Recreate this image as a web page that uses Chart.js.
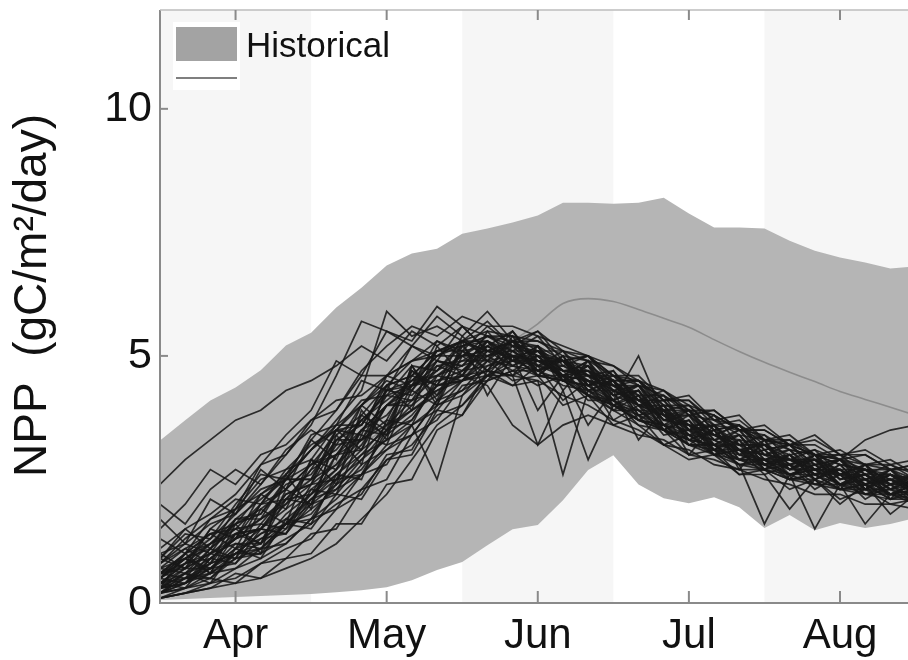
<!DOCTYPE html>
<html>
<head>
<meta charset="utf-8">
<script src="https://cdn.jsdelivr.net/npm/chart.js@4.4.1/dist/chart.umd.min.js"></script>
<style>
html,body{margin:0;padding:0;background:#fff;}
#wrap{width:908px;height:660px;position:relative;}
</style>
</head>
<body>
<div id="wrap"><canvas id="c" width="908" height="660"></canvas></div>
<script>
// ---------- data ----------
const months = ['Apr', 'May', 'Jun', 'Jul', 'Aug'];
const monthPos = [0, 1, 2, 3, 4];
const yTicks = [0, 5, 10];
const legendLabel = 'Historical';
const yTitle = ' \u2009NPP  (gC/m\u00B2/day)';

// time axis: 5-day steps, in month units (Apr = 0)
const tSteps = Array.from({length: 31}, (_, i) => -0.5 + i / 6);

const histUpper = [3.29,3.70,4.10,4.36,4.71,5.21,5.47,5.98,6.38,6.83,7.07,7.17,7.47,7.58,7.70,7.84,8.10,8.10,8.08,8.10,8.20,7.88,7.60,7.60,7.58,7.33,7.13,6.99,6.89,6.77,6.81];
const histLower = [0.06,0.08,0.10,0.12,0.14,0.16,0.18,0.22,0.26,0.32,0.46,0.67,0.83,1.17,1.49,1.58,2.08,2.69,2.99,2.40,2.12,2.02,2.14,1.94,1.52,1.78,1.47,1.62,1.52,1.60,1.72];
const histMean  = [0.90,1.10,1.30,1.60,1.90,2.20,2.50,2.85,3.20,3.55,3.90,4.25,4.60,4.95,5.30,5.65,6.06,6.16,6.10,5.94,5.76,5.58,5.33,5.09,4.87,4.67,4.48,4.28,4.12,3.96,3.80];

const ensemble = [
[0.9,1.4,1.3,2.0,2.6,2.5,3.4,3.6,4.5,4.3,5.2,4.9,5.6,5.1,5.3,5.0,4.6,4.9,4.3,4.4,3.8,3.9,3.3,3.5,3.0,3.1,2.7,2.9,2.5,2.6,2.3],
[0.2,0.3,0.5,0.4,0.8,0.9,1.4,1.5,2.3,2.5,3.4,3.7,4.4,4.5,5.1,4.7,4.9,4.3,4.5,3.8,3.9,3.3,3.5,2.9,3.1,2.6,2.8,2.4,2.6,2.2,2.4],
[0.5,0.9,0.6,1.4,1.2,2.1,2.0,3.0,3.3,3.7,4.7,4.2,5.1,4.7,5.3,4.6,5.0,4.2,4.5,3.7,4.0,3.2,3.5,2.9,3.2,2.7,2.9,2.4,2.7,2.3,2.6],
[0.3,0.4,1.0,0.9,1.6,1.5,2.4,2.5,3.5,3.4,4.4,4.5,4.6,5.3,4.8,5.1,4.5,4.8,4.0,4.3,3.5,3.8,3.1,3.4,2.8,3.0,2.5,2.8,2.3,2.6,2.2],
[2.4,2.9,3.3,3.7,3.9,4.3,4.5,4.8,5.2,4.9,5.5,5.2,5.6,5.1,5.3,4.9,4.9,4.4,4.5,3.9,3.9,3.3,3.5,3.0,3.1,2.7,2.9,2.4,2.6,2.2,2.4],
[2.0,1.6,2.3,2.7,2.4,3.1,3.5,3.2,4.0,4.5,4.3,5.1,5.3,5.7,5.2,5.2,4.6,4.9,4.2,4.4,3.8,3.8,3.4,3.3,3.2,2.8,3.0,2.6,2.7,2.4,2.6],
[0.1,0.2,0.3,0.6,0.5,0.9,1.0,1.6,1.6,2.4,2.5,3.5,3.8,4.5,4.7,4.7,4.8,4.6,4.3,4.1,3.8,3.5,3.3,3.1,2.8,2.8,2.5,2.7,2.2,2.4,2.1],
[0.6,1.0,1.4,1.1,2.0,2.1,2.7,3.5,3.1,4.3,4.2,4.7,5.2,4.7,5.4,4.6,5.0,4.3,4.3,4.0,3.8,3.4,3.4,3.1,3.0,2.7,3.0,2.5,2.6,2.3,2.4],
[0.4,0.7,1.2,1.5,1.2,2.3,2.0,3.3,3.7,3.4,4.8,4.1,5.2,5.3,4.6,5.2,4.3,4.9,3.9,4.2,3.5,3.7,3.0,3.3,2.7,3.0,2.5,2.8,2.3,2.6,2.3],
[0.5,0.4,0.8,1.0,1.2,1.6,2.0,2.4,3.0,3.3,3.6,2.5,4.2,4.6,4.4,4.5,2.6,4.3,4.0,3.9,3.5,3.4,3.1,2.9,2.8,2.6,2.6,2.4,2.3,2.3,2.2],
[0.7,1.1,0.8,1.7,1.7,2.5,2.5,3.5,3.6,4.4,4.6,5.1,5.1,5.2,5.5,4.9,4.9,4.7,4.5,4.0,4.1,3.5,3.6,3.1,3.2,2.8,2.9,2.6,2.8,2.4,2.6],
[0.2,0.5,0.5,1.0,1.0,1.6,1.8,2.4,2.7,3.4,3.8,4.4,4.5,5.0,4.7,5.0,4.5,4.4,4.1,3.9,3.6,3.4,3.1,3.0,2.8,2.6,2.8,2.4,2.5,2.2,2.4],
[0.8,1.1,1.4,1.5,2.0,2.3,2.8,3.0,3.7,4.1,4.5,4.9,4.8,5.3,5.0,4.9,4.9,4.5,4.4,4.0,3.9,3.5,3.4,3.2,3.2,3.0,3.1,2.9,3.3,3.5,3.6],
[0.3,0.7,0.7,1.2,1.2,1.8,2.2,2.7,3.2,4.0,4.0,4.8,4.6,5.2,4.9,4.9,4.6,4.5,4.2,4.0,3.6,3.5,3.2,3.1,2.9,2.8,2.6,2.6,2.4,2.5,2.3],
[0.6,0.8,1.2,1.4,1.7,2.0,2.7,3.0,3.5,4.0,4.5,4.6,5.0,5.1,5.0,4.9,4.6,4.5,4.1,5.0,3.8,3.6,3.4,3.1,3.0,2.9,2.7,2.6,2.5,2.4,2.4],
[0.4,0.5,0.7,1.1,1.3,1.6,2.2,2.6,3.1,3.5,4.0,4.4,4.6,4.7,4.6,3.2,4.3,2.9,4.0,3.7,3.5,3.2,3.0,2.8,2.7,2.5,2.5,2.3,2.3,2.2,2.2],
[1.0,1.2,1.6,1.8,2.3,2.5,3.1,3.5,4.0,4.4,4.9,5.1,5.2,5.4,5.4,5.1,5.1,4.6,4.7,4.1,4.1,3.6,3.6,3.2,3.2,2.9,2.9,2.7,2.7,2.5,2.6],
[0.5,0.9,1.3,1.8,2.4,3.0,3.6,4.6,5.7,5.5,5.3,6.0,5.6,5.4,5.2,5.1,4.9,4.6,4.5,4.1,3.9,3.6,3.4,3.2,3.0,2.9,2.8,2.6,2.6,2.4,2.4],
[0.2,0.3,0.6,0.7,1.1,1.2,1.7,1.9,2.6,2.8,3.6,3.9,4.5,4.7,5.0,4.9,4.8,4.5,4.4,4.0,3.8,3.4,3.3,3.0,2.9,2.7,2.7,2.4,2.5,2.2,2.4],
[0.1,0.3,0.4,0.7,0.9,1.2,1.7,2.1,2.6,3.1,3.4,4.1,4.5,4.6,4.9,4.7,4.5,4.4,4.0,3.8,3.5,3.2,3.1,2.8,1.6,2.6,1.5,2.4,1.6,2.2,2.0],
[0.9,1.5,1.1,1.9,2.2,2.5,3.1,3.6,4.0,4.6,4.9,5.0,5.3,5.3,5.0,5.1,4.7,4.7,4.2,4.3,3.7,3.8,3.3,3.4,2.9,3.0,2.7,2.7,2.4,2.5,2.2],
[0.3,0.6,0.5,0.9,1.1,1.6,1.7,2.5,2.6,3.5,3.7,4.5,4.7,5.1,5.0,4.9,4.7,4.6,4.3,4.1,3.7,3.6,3.2,3.2,2.8,2.9,2.6,2.7,2.4,2.5,2.3],
[0.6,0.7,1.0,1.3,1.7,2.1,2.5,2.8,3.3,3.6,4.1,4.3,4.6,4.4,3.6,3.2,3.6,3.8,3.6,3.4,3.3,3.0,2.9,2.7,2.7,2.5,2.4,2.3,2.2,2.1,2.1],
[0.4,0.8,0.9,1.3,1.5,2.1,2.2,3.0,3.1,4.0,4.1,4.6,4.8,5.3,4.9,5.2,4.7,4.6,4.4,4.2,3.7,3.6,3.1,3.1,2.9,2.9,2.7,2.7,2.3,2.6,2.3],
[1.3,1.0,1.7,2.1,2.0,2.7,2.9,3.6,3.6,4.3,4.4,5.0,5.0,5.3,5.1,5.4,4.8,5.0,4.6,4.5,4.0,4.0,3.5,3.6,3.2,3.3,2.9,3.0,2.6,2.8,2.5],
[0.1,0.2,0.3,0.4,0.5,0.7,0.9,1.2,1.7,2.2,2.9,3.6,4.0,4.5,4.7,4.4,4.6,4.1,4.1,3.6,3.5,3.0,3.1,2.6,2.7,2.3,2.5,2.1,2.3,2.0,2.1],
[0.7,0.6,1.1,1.5,1.6,2.2,2.4,3.2,3.3,4.0,4.3,4.9,4.8,5.0,5.2,5.0,4.6,4.7,4.1,4.3,3.6,3.7,3.2,3.4,2.8,3.0,2.6,2.7,2.4,2.6,2.3],
[0.5,0.8,1.0,1.4,1.5,1.9,2.3,2.7,3.5,3.8,4.4,4.6,4.9,5.2,4.9,4.8,4.7,4.2,3.9,3.6,3.2,2.9,3.0,2.6,2.6,1.9,2.5,2.0,2.4,1.8,2.2],
[0.6,1.0,1.4,1.6,2.2,2.6,3.1,3.7,4.3,5.9,5.4,5.6,5.3,5.5,5.4,5.3,5.0,4.9,4.6,4.4,4.2,3.9,3.8,3.5,3.5,3.2,3.3,3.0,3.0,2.7,2.8],
[0.3,0.4,0.7,1.0,1.4,1.6,2.1,2.5,2.9,3.5,3.9,4.2,4.7,4.8,5.0,4.6,4.5,4.2,4.0,3.7,3.6,3.2,3.2,2.8,2.9,2.5,2.6,2.3,2.4,2.1,2.2],
[0.8,1.2,1.0,1.7,2.1,2.5,2.8,3.4,3.8,4.4,4.6,5.1,5.3,5.1,5.3,5.2,4.9,5.0,4.5,4.5,4.1,4.1,3.6,3.7,3.3,3.3,3.0,3.0,2.8,2.8,2.6],
[0.2,0.5,0.6,1.0,1.1,1.5,1.9,2.3,2.9,3.3,3.7,4.4,4.5,4.9,4.8,4.7,4.4,4.3,3.9,3.9,3.5,3.3,3.2,2.9,2.9,2.6,2.7,2.4,2.4,2.2,2.3],
[1.5,2.0,2.7,2.4,3.0,3.2,3.7,4.1,4.2,4.6,4.9,5.3,5.0,5.4,5.1,5.1,4.7,4.8,4.3,4.4,3.9,3.9,3.4,3.6,3.1,3.2,2.8,2.9,2.5,2.7,2.4],
[0.4,0.6,0.9,1.3,1.5,2.0,2.4,2.8,3.5,4.0,4.4,4.7,5.0,5.0,5.1,4.8,4.9,4.4,4.5,4.0,4.0,3.5,3.6,3.1,3.2,2.8,2.9,2.5,2.6,2.3,2.5],
[0.6,0.9,1.1,1.6,1.8,2.4,2.6,3.3,3.6,4.3,4.5,5.0,5.2,5.4,5.3,5.3,5.1,4.9,4.8,4.4,4.3,3.9,3.9,3.5,3.5,3.2,3.2,2.9,3.0,2.7,2.8],
[0.3,0.5,0.8,1.0,1.4,1.7,2.1,2.6,3.0,3.6,3.9,4.3,4.5,4.7,4.6,4.5,4.2,4.0,3.7,3.5,3.2,3.1,2.8,2.7,2.5,2.4,2.2,2.2,2.0,2.0,1.9],
[0.2,0.6,0.4,1.1,0.9,1.7,1.6,2.6,2.5,3.7,3.6,4.6,4.5,5.1,4.8,5.0,4.5,4.6,4.0,4.2,3.5,3.7,3.1,3.3,2.7,3.0,2.5,2.7,2.3,2.5,2.2],
[0.9,0.7,1.5,1.3,2.2,1.9,2.9,2.7,3.8,3.5,4.7,4.4,5.4,4.9,5.5,4.8,5.1,4.4,4.7,4.0,4.2,3.5,3.8,3.2,3.4,2.9,3.1,2.6,2.8,2.4,2.6],
[0.1,0.2,0.4,0.5,0.8,1.1,1.3,1.9,2.2,3.0,3.1,4.0,4.2,4.8,4.9,5.0,4.9,4.6,4.6,4.2,4.2,3.8,3.7,3.4,3.3,3.1,3.0,2.8,2.7,2.6,2.5],
[1.1,1.5,1.8,2.2,2.8,3.0,3.7,3.9,4.6,4.6,5.2,5.0,5.3,5.1,5.1,4.8,4.6,4.3,4.1,3.8,3.6,3.3,3.2,2.9,2.9,2.6,2.7,2.4,2.5,2.2,2.3],
[0.4,0.3,0.9,0.8,1.5,1.4,2.3,2.2,3.4,3.2,4.3,4.0,5.0,4.6,5.2,4.7,5.0,4.4,4.6,4.1,4.3,3.8,3.9,3.5,3.6,3.2,3.4,3.0,3.1,2.8,2.9],
[0.7,0.9,1.2,1.6,1.9,2.3,2.8,3.1,3.7,4.2,4.4,4.8,4.9,4.9,5.0,4.6,4.6,4.2,4.1,3.7,3.6,3.2,3.2,2.8,2.8,2.5,2.6,2.3,2.4,2.1,2.3],
[0.3,0.4,0.6,0.9,1.0,1.3,1.6,2.0,2.3,2.9,3.2,3.8,4.0,4.6,4.6,4.9,4.7,4.7,4.4,4.4,4.0,3.9,3.6,3.5,3.3,3.2,3.0,2.9,2.8,2.7,2.7],
[0.5,1.0,1.2,1.7,1.8,2.5,2.5,3.3,3.3,4.2,4.1,4.9,4.7,5.2,4.9,5.1,4.6,4.7,4.2,4.3,3.7,3.9,3.4,3.6,3.0,3.2,2.7,2.9,2.4,2.7,2.3],
[0.2,0.4,0.7,0.8,1.3,1.4,2.0,2.2,2.8,3.1,3.6,4.0,4.3,4.6,4.8,4.6,4.5,4.2,4.0,3.7,3.5,3.3,3.0,2.9,2.7,2.6,2.4,2.4,2.2,2.2,2.1],
[0.8,1.3,1.7,1.9,2.5,2.7,3.2,3.5,4.1,4.2,4.8,4.7,5.3,5.0,5.3,5.0,4.9,4.8,4.5,4.5,4.1,4.1,3.7,3.6,3.3,3.2,3.0,2.9,2.7,2.7,2.5],
[0.3,1.0,0.6,1.6,1.0,2.6,1.9,3.4,2.8,4.4,3.9,5.2,4.6,5.5,4.9,5.2,4.5,4.8,4.1,4.4,3.6,3.9,3.2,3.5,2.9,3.1,2.6,2.9,2.3,2.7,2.2],
[1.7,1.2,2.1,1.8,2.7,2.3,3.3,2.9,4.0,3.6,4.6,4.4,5.1,4.9,5.3,4.7,4.9,4.3,4.5,3.8,4.0,3.4,3.6,3.0,3.3,2.7,3.0,2.5,2.7,2.3,2.5],
[0.4,0.8,1.5,1.9,2.8,3.4,3.9,4.9,4.6,5.5,5.2,5.8,5.4,5.9,5.3,5.5,4.9,5.0,4.4,4.5,3.9,4.0,3.5,3.6,3.1,3.2,2.8,2.9,2.6,2.6,2.4],
[0.6,0.5,1.1,0.9,1.9,1.6,2.9,2.4,3.9,3.3,4.8,4.0,5.3,4.2,5.0,3.9,4.6,3.6,4.3,3.3,3.9,3.0,3.6,2.7,3.3,2.5,3.0,2.3,2.8,2.1,2.6],
[0.2,0.4,0.9,1.3,2.0,2.6,3.3,3.9,4.7,5.2,5.6,5.4,5.8,5.6,5.6,5.4,5.2,5.0,4.8,4.5,4.3,4.0,3.8,3.5,3.4,3.1,3.0,2.8,2.7,2.5,2.4],
[1.0,0.7,1.0,1.2,1.1,1.6,1.5,2.2,2.1,2.9,3.0,3.9,3.8,4.7,4.4,4.8,4.1,4.5,3.7,4.0,3.4,3.5,3.0,3.1,2.6,2.8,2.3,2.6,2.1,2.4,2.0],
[0.3,0.6,0.8,1.4,1.5,2.2,2.4,3.5,3.4,4.6,4.4,5.3,5.1,5.6,5.2,5.5,5.1,5.0,4.6,4.6,4.1,4.2,3.7,3.8,3.3,3.4,3.0,3.1,2.8,2.9,2.6],
[0.5,0.9,0.7,1.1,1.5,1.4,2.1,2.3,2.6,3.2,3.4,4.1,4.3,4.9,4.5,4.6,4.0,4.2,3.6,3.8,3.2,3.4,3.0,3.1,2.7,2.8,2.4,2.6,2.2,2.3,2.0]
];

// ---------- styling ----------
const FONT = '"Liberation Sans", Arial, Helvetica, sans-serif';
const pts = arr => arr.map((v, i) => ({x: tSteps[i], y: v}));

const datasets = [
  {label: 'lower', data: pts(histLower), borderWidth: 0, pointRadius: 0, fill: false, order: 10, tension: 0},
  {label: 'upper', data: pts(histUpper), borderWidth: 0, pointRadius: 0, fill: 0, backgroundColor: '#b5b5b5', order: 10, tension: 0},
  {label: 'mean', data: pts(histMean), borderColor: '#8c8c8c', borderWidth: 1.6, pointRadius: 0, fill: false, order: 5, tension: 0.4, cubicInterpolationMode: 'monotone'}
];
ensemble.forEach((arr, k) => datasets.push({
  label: 'run' + k, data: pts(arr), borderColor: 'rgba(24,24,24,0.88)', borderWidth: 1.7,
  pointRadius: 0, fill: false, order: 0, tension: 0
}));

const decor = {
  id: 'decor',
  beforeDatasetsDraw(chart) {
    const {ctx, chartArea: a, scales: {x}} = chart;
    ctx.save();
    ctx.fillStyle = '#ffffff';
    ctx.fillRect(a.left, a.top, a.right - a.left, a.bottom - a.top);
    ctx.fillStyle = '#f6f6f6';
    [[-0.5, 0.5], [1.5, 2.5], [3.5, 4.5]].forEach(([s, e]) => {
      const x0 = Math.max(a.left, x.getPixelForValue(s));
      const x1 = Math.min(a.right, x.getPixelForValue(e));
      ctx.fillRect(x0, a.top, x1 - x0, a.bottom - a.top);
    });
    ctx.restore();
  },
  afterDatasetsDraw(chart) {
    const {ctx, chartArea: a, scales: {x, y}} = chart;
    ctx.save();
    ctx.strokeStyle = '#8a8a8a';
    ctx.lineWidth = 2;
    ctx.beginPath();
    ctx.moveTo(a.left, a.top); ctx.lineTo(a.left, a.bottom); ctx.lineTo(a.right, a.bottom);
    ctx.stroke();
    ctx.strokeStyle = '#bdbdbd';
    ctx.lineWidth = 1.5;
    ctx.beginPath(); ctx.moveTo(a.left, a.top); ctx.lineTo(a.right, a.top); ctx.stroke();
    ctx.strokeStyle = '#8a8a8a';
    ctx.lineWidth = 2;
    monthPos.forEach(m => {
      const px = x.getPixelForValue(m);
      ctx.beginPath(); ctx.moveTo(px, a.bottom); ctx.lineTo(px, a.bottom - 12); ctx.stroke();
      ctx.beginPath(); ctx.moveTo(px, a.top); ctx.lineTo(px, a.top + 10); ctx.stroke();
    });
    yTicks.forEach(v => {
      const py = y.getPixelForValue(v);
      ctx.beginPath(); ctx.moveTo(a.left, py); ctx.lineTo(a.left + 8, py); ctx.stroke();
    });
    // legend
    ctx.fillStyle = '#ffffff';
    ctx.fillRect(173, 22, 67, 68);
    ctx.fillStyle = '#a3a3a3';
    ctx.fillRect(176, 27, 61, 34);
    ctx.strokeStyle = '#555555';
    ctx.lineWidth = 1.6;
    ctx.beginPath(); ctx.moveTo(176, 78); ctx.lineTo(237, 78); ctx.stroke();
    ctx.fillStyle = '#111111';
    ctx.font = '35px ' + FONT;
    ctx.textBaseline = 'alphabetic';
    ctx.textAlign = 'left';
    ctx.fillText(legendLabel, 246, 57);
    ctx.restore();
  }
};

new Chart(document.getElementById('c'), {
  type: 'line',
  data: {datasets},
  options: {
    responsive: false,
    animation: false,
    layout: {padding: {top: 10, right: 0, left: 0, bottom: 0}},
    plugins: {legend: {display: false}, tooltip: {enabled: false}},
    scales: {
      x: {
        type: 'linear', min: -0.5, max: 4.45,
        grid: {display: false}, border: {display: false},
        afterBuildTicks: s => { s.ticks = monthPos.map(v => ({value: v})); },
        afterFit: s => { s.height = 57; s.paddingLeft = 0; s.paddingRight = 0; },
        ticks: {
          callback: v => months[monthPos.indexOf(v)] || '',
          font: {family: FONT, size: 42}, color: '#111', padding: 0, maxRotation: 0, autoSkip: false
        }
      },
      y: {
        type: 'linear', min: 0, max: 12,
        grid: {display: false}, border: {display: false},
        afterBuildTicks: s => { s.ticks = yTicks.map(v => ({value: v})); },
        afterFit: s => { s.width = 160; s.paddingTop = 0; s.paddingBottom = 0; },
        ticks: {font: {family: FONT, size: 43}, color: '#111', padding: 0},
        title: {display: true, text: yTitle, font: {family: FONT, size: 46}, color: '#111', padding: {top: 6, bottom: 0}}
      }
    }
  },
  plugins: [decor]
});
</script>
</body>
</html>
